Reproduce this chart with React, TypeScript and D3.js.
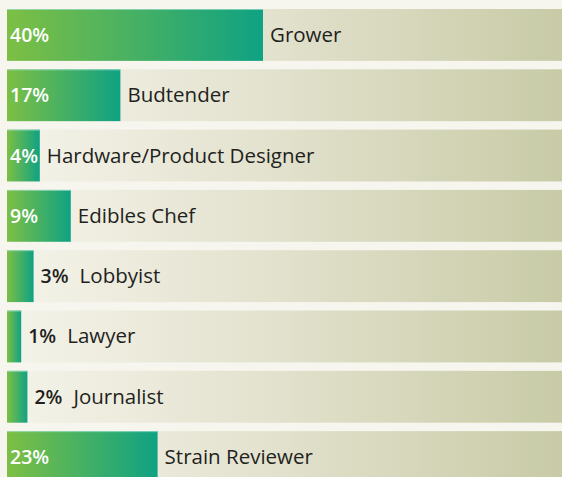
import React from "react";
import * as d3 from "d3";

const categories = [
  "Grower",
  "Budtender",
  "Hardware/Product Designer",
  "Edibles Chef",
  "Lobbyist",
  "Lawyer",
  "Journalist",
  "Strain Reviewer",
];
const values = [40, 17, 4, 9, 3, 1, 2, 23];

const W = 562;
const H = 477;

export default function App() {
  const x0 = 7;
  const x = d3.scaleLinear().domain([0, 40]).range([15, 263]);
  const y = d3
    .scaleBand<string>()
    .domain(categories)
    .range([9, 483])
    .paddingInner(0.14)
    .paddingOuter(0);
  const bw = y.bandwidth();
  const font = "'Open Sans', sans-serif";

  return (
    <svg
      width={W}
      height={H}
      style={{ position: "absolute", left: 0, top: 0, display: "block" }}
    >
      <defs>
        <linearGradient id="track" x1="0" x2="1" y1="0" y2="0">
          <stop offset="0%" stopColor="#f4f3e9" />
          <stop offset="45%" stopColor="#e4e3d0" />
          <stop offset="100%" stopColor="#c8cba6" />
        </linearGradient>
        <linearGradient id="bar" x1="0" x2="1" y1="0" y2="0">
          <stop offset="0%" stopColor="#7dbf44" />
          <stop offset="100%" stopColor="#0fa283" />
        </linearGradient>
      </defs>
      <rect x={0} y={0} width={W} height={H} fill="#f6f5ee" />
      {categories.map((c, i) => {
        const v = values[i];
        const y0 = y(c)!;
        const x1 = x(v);
        const cy = y0 + bw / 2;
        const inside = v >= 4;
        const valueX = inside ? x0 + 3 : x1 + 7;
        const valueLabel = `${v}%`;
        const valueW = v >= 10 ? 40 : 26;
        const catX = inside
          ? Math.max(x1 + 7, valueX + valueW + 6)
          : valueX + valueW + 13;
        return (
          <g key={c}>
            <rect x={x0} y={y0} width={W - x0} height={bw} fill="url(#track)" />
            <rect x={x0} y={y0} width={x1 - x0} height={bw} fill="url(#bar)" />
            <rect x={x0} y={y0} width={x1 - x0} height={1} fill="#9fe0cf" opacity={0.7} />
            <text
              x={valueX}
              y={cy + 7}
              fill={inside ? "#ffffff" : "#231f20"}
              fontFamily={font}
              fontWeight={600}
              fontSize={19.5}
            >
              {valueLabel}
            </text>
            <text
              x={catX}
              y={cy + 7}
              fill="#231f20"
              fontFamily={font}
              fontSize={20.5}
            >
              {c}
            </text>
          </g>
        );
      })}
    </svg>
  );
}
